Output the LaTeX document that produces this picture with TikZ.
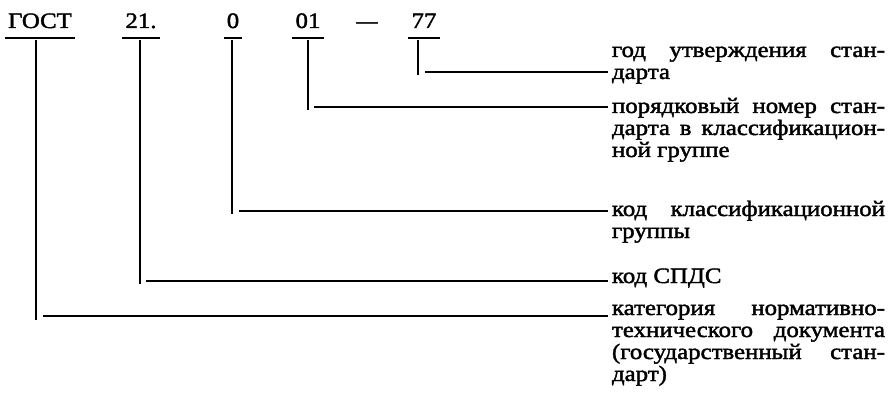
\documentclass[tikz,border=0pt]{standalone}
\usepackage{fontspec}
\setmainfont{Liberation Serif}[FakeStretch=1.13,FakeBold=1.8]
\newcommand{\dtext}[1]{\vtop{\hsize=273pt\parindent=0pt\baselineskip=22pt\tolerance=10000\hbadness=10000\hyphenpenalty=10000\rightskip=0pt #1\par}}
\begin{document}
\begin{tikzpicture}[x=1pt,y=-1pt,
  lbl/.style={font=\fontsize{22}{22}\selectfont, inner sep=0pt, anchor=base},
  ln/.style={line width=1.6pt},
  desc/.style={font=\fontsize{22}{22}\selectfont, inner sep=0pt, outer xsep=4pt, anchor=base west}]
\useasboundingbox (0,0) rectangle (890,395);
% code labels
\node[lbl] (gost) at (40,28) {ГОСТ};
\node[lbl] (n21) at (141,28) {21.};
\node[lbl] (n0) at (233,28) {0};
\node[lbl] (n01) at (308,28) {01};
\node[lbl] (dash) at (367,28) {\scalebox{0.85}[1]{—}};
\node[lbl] (n77) at (424,28) {77};
% underlines
\foreach \n in {gost,n21,n0,n01,n77}
  \draw[ln] ([xshift=-3pt,yshift=-10pt]\n.base west) -- ([xshift=3pt,yshift=-10pt]\n.base east);
% descriptions
\node[desc] (d77) at (608,57) {\dtext{год утверждения стан-\linebreak дарта}};
\node[desc] (d01) at (608,113) {\dtext{порядковый номер стан-\linebreak дарта в классификацион-\linebreak ной группе}};
\node[desc] (d0) at (608,216) {\dtext{код классификационной\linebreak группы}};
\node[desc] (d21) at (608,283) {\dtext{код СПДС}};
\node[desc] (dgost) at (608,315) {\dtext{категория нормативно-\linebreak технического документа\linebreak (государственный стан-\linebreak дарт)}};
% connector corners
\coordinate (t77) at (418,40); \coordinate (b77) at (418,75); \coordinate (h77) at (425,72);
\coordinate (t01) at (308,40); \coordinate (b01) at (308,110); \coordinate (h01) at (314,107);
\coordinate (t0) at (232,40); \coordinate (b0) at (232,214); \coordinate (h0) at (239,211);
\coordinate (t21) at (140,40); \coordinate (b21) at (140,284); \coordinate (h21) at (146,281);
\coordinate (tg) at (36,40); \coordinate (bg) at (36,320); \coordinate (hg) at (43,316);
\draw[ln] (t77) -- (b77); \draw[ln] (h77) -- (h77 -| d77.west);
\draw[ln] (t01) -- (b01); \draw[ln] (h01) -- (h01 -| d01.west);
\draw[ln] (t0) -- (b0); \draw[ln] (h0) -- (h0 -| d0.west);
\draw[ln] (t21) -- (b21); \draw[ln] (h21) -- (h21 -| d21.west);
\draw[ln] (tg) -- (bg); \draw[ln] (hg) -- (hg -| dgost.west);
\end{tikzpicture}
\end{document}
